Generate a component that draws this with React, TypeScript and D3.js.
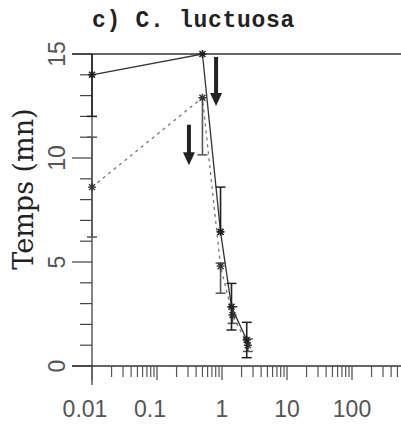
import React from "react";
import * as d3 from "d3";

// ---- data ----
const title = "c) C. luctuosa";
const yLabel = "Temps (mn)";

// solid series
const solidX = [0.01, 0.5, 0.95, 1.4, 2.4];
const solidY = [14, 15, 6.45, 2.85, 1.25];
const solidErrLo = [2, 0, 0, 1.12, 0.85];
const solidErrHi = [2, 0, 2.15, 1.12, 0.85];

// dashed series
const dashX = [0.01, 0.5, 0.95, 1.45, 2.5];
const dashY = [8.6, 12.9, 4.8, 2.45, 1.0];
const dashErrLo = [2.4, 2.75, 1.3, 0.4, 0.3];
const dashErrHi = [2.4, 0, 0.15, 0.4, 0.3];

// arrows (annotations)
const arrowX = [0.81, 0.31];
const arrowYFrom = [14.86, 11.6];
const arrowYTo = [12.5, 9.65];

const xMajorTicks = [0.01, 0.1, 1, 10, 100];
const xTickLabels = ["0.01", "0.1", "1", "10", "100"];
const yMajorTicks = [0, 5, 10, 15];
const yTickLabels = ["0", "5", "10", "15"];
const yMinorTicks = d3.range(0, 16);

const W = 401;
const H = 426;

export default function App() {
  const x = d3.scaleLog().domain([0.01, 1000]).range([92, 417]);
  const y = d3.scaleLinear().domain([0, 15]).range([366, 54]);

  const xMinor: number[] = [];
  xMajorTicks.forEach((d) => {
    for (let k = 2; k <= 9; k++) xMinor.push(d * k);
  });

  const line = d3
    .line<[number, number]>()
    .x((d) => x(d[0]))
    .y((d) => y(d[1]));

  const solidPts = solidX.map((v, i) => [v, solidY[i]] as [number, number]);
  const dashPts = dashX.map((v, i) => [v, dashY[i]] as [number, number]);

  const clampY = (v: number) => Math.max(0, Math.min(15, v));

  const star = (cx: number, cy: number, r: number) =>
    `M${cx - r},${cy}L${cx + r},${cy}M${cx},${cy - r}L${cx},${cy + r}` +
    `M${cx - r * 0.75},${cy - r * 0.75}L${cx + r * 0.75},${cy + r * 0.75}` +
    `M${cx - r * 0.75},${cy + r * 0.75}L${cx + r * 0.75},${cy - r * 0.75}`;

  const errBars = (
    xs: number[],
    ys: number[],
    lo: number[],
    hi: number[],
    color: string,
    key: string
  ) =>
    xs.map((xv, i) => {
      const px = x(xv);
      const elements: React.ReactNode[] = [];
      const top = clampY(ys[i] + hi[i]);
      const bot = clampY(ys[i] - lo[i]);
      if (top !== bot) {
        elements.push(
          <line key="v" x1={px} x2={px} y1={y(top)} y2={y(bot)} stroke={color} strokeWidth={1.6} />
        );
      }
      if (hi[i] > 0 && ys[i] + hi[i] < 15)
        elements.push(
          <line key="t" x1={px - 5} x2={px + 5} y1={y(top)} y2={y(top)} stroke={color} strokeWidth={1.5} />
        );
      if (lo[i] > 0)
        elements.push(
          <line key="b" x1={px - 5} x2={px + 5} y1={y(bot)} y2={y(bot)} stroke={color} strokeWidth={1.5} />
        );
      return <g key={key + i}>{elements}</g>;
    });

  return (
    <svg
      width={W}
      height={H}
      style={{ position: "absolute", left: 0, top: 0, background: "#fff" }}
    >
      <rect width={W} height={H} fill="#fff" />
      {/* title */}
      <text
        x={92}
        y={27}
        fontFamily="'Liberation Mono', 'DejaVu Sans Mono', monospace"
        fontWeight="bold"
        fontSize={23}
        letterSpacing={0.7}
        fill="#222"
      >
        {title}
      </text>

      {/* y axis label */}
      <text
        transform={`translate(33,${189}) rotate(-90)`}
        textAnchor="middle"
        fontFamily="'DejaVu Serif', serif"
        fontSize={27}
        fill="#222"
      >
        {yLabel}
      </text>

      {/* y axis */}
      <line x1={92} x2={92} y1={y(15)} y2={385} stroke="#333" strokeWidth={1.2} />
      {yMinorTicks.map((t) => (
        <line
          key={"ym" + t}
          x1={yMajorTicks.includes(t) ? 72 : 80}
          x2={92}
          y1={y(t)}
          y2={y(t)}
          stroke="#444"
          strokeWidth={1.2}
        />
      ))}
      {yMajorTicks.map((t, i) => (
        <text
          key={"yl" + t}
          transform={`translate(65,${y(t)}) rotate(-90)`}
          textAnchor="middle"
          fontFamily="'Liberation Sans', Arial, sans-serif"
          fontSize={23}
          fill="#555"
        >
          {yTickLabels[i]}
        </text>
      ))}

      {/* top line at 15 */}
      <line x1={72} x2={W} y1={y(15)} y2={y(15)} stroke="#333" strokeWidth={1.4} />

      {/* x axis */}
      <line x1={72} x2={W} y1={y(0)} y2={y(0)} stroke="#333" strokeWidth={1.3} />
      {xMinor.map((t, i) => (
        <line
          key={"xm" + i}
          x1={x(t)}
          x2={x(t)}
          y1={y(0)}
          y2={y(0) + 11}
          stroke="#555"
          strokeWidth={1.2}
        />
      ))}
      {xMajorTicks.map((t, i) => (
        <g key={"xt" + t}>
          <line x1={x(t)} x2={x(t)} y1={y(0)} y2={y(0) + 14} stroke="#555" strokeWidth={1.3} />
          <text
            x={x(t) + (t < 1 ? -7 : 0)}
            y={417}
            textAnchor="middle"
            fontFamily="'Liberation Sans', Arial, sans-serif"
            fontSize={23}
            fill="#555"
          >
            {xTickLabels[i]}
          </text>
        </g>
      ))}

      {/* dashed series */}
      <path d={line(dashPts) || ""} fill="none" stroke="#777" strokeWidth={1.3} strokeDasharray="3,4" />
      {errBars(dashX, dashY, dashErrLo, dashErrHi, "#555", "de")}
      {dashPts.map((p, i) => (
        <path key={"dp" + i} d={star(x(p[0]), y(p[1]), 4)} stroke="#333" strokeWidth={1.4} fill="none" />
      ))}

      {/* solid series */}
      <path d={line(solidPts) || ""} fill="none" stroke="#333" strokeWidth={1.3} />
      {errBars(solidX, solidY, solidErrLo, solidErrHi, "#222", "se")}
      {solidPts.map((p, i) => (
        <path key={"sp" + i} d={star(x(p[0]), y(p[1]), 4)} stroke="#222" strokeWidth={1.6} fill="none" />
      ))}

      {/* arrows */}
      {arrowX.map((ax, i) => {
        const px = x(ax);
        const y0 = y(arrowYFrom[i]);
        const y1 = y(arrowYTo[i]);
        return (
          <g key={"ar" + i}>
            <line x1={px} x2={px} y1={y0} y2={y1 - 12} stroke="#222" strokeWidth={4} />
            <path d={`M${px - 6},${y1 - 13}L${px + 6},${y1 - 13}L${px},${y1}Z`} fill="#222" />
          </g>
        );
      })}
    </svg>
  );
}
